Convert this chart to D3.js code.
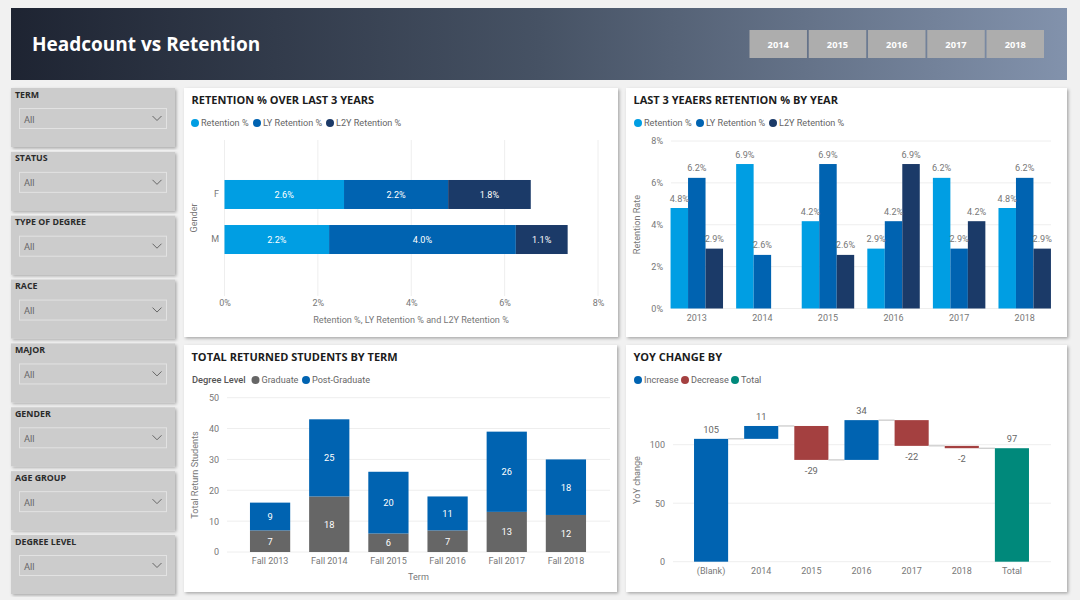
<!DOCTYPE html>
<html>
<head>
<meta charset="utf-8">
<script src="https://cdn.jsdelivr.net/npm/d3@7"></script>
<style>
  html, body { margin: 0; padding: 0; background: #f1f1f1; }
  svg { display: block; }
  text { font-family: Roboto, sans-serif; }
  .axis path { display: none; }
  .axis text { fill: #777; font-size: 9px; font-family: Roboto, sans-serif; }
  .title { font-size: 11px; font-weight: 700; fill: #1c1c1c; font-family: "Open Sans", sans-serif; }
  .legend { font-size: 9.1px; fill: #666; }
  .axis-title { font-size: 9.1px; fill: #777; }
</style>
</head>
<body>
<div id="chart"></div>
<script>
// header + slicers
const yearButtons = ["2014", "2015", "2016", "2017", "2018"];
const slicers = ["TERM", "STATUS", "TYPE OF DEGREE", "RACE", "MAJOR", "GENDER", "AGE GROUP", "DEGREE LEVEL"];

// retention by gender
const genders = ["F", "M"];
const retentionKeys = ["Retention %", "LY Retention %", "L2Y Retention %"];
const genderRetention = [2.56, 2.24];
const genderLY = [2.23, 4.0];
const genderL2Y = [1.77, 1.11];

// retention by year
const years = ["2013", "2014", "2015", "2016", "2017", "2018"];
const yearRetention = [4.8, 6.9, 4.17, 2.86, 6.24, 4.8];
const yearLY = [6.24, 2.56, 6.9, 4.17, 2.86, 6.24];
const yearL2Y = [2.86, null, 2.56, 6.9, 4.17, 2.86];

// returned students
const terms = ["Fall 2013", "Fall 2014", "Fall 2015", "Fall 2016", "Fall 2017", "Fall 2018"];
const graduate = [7, 18, 6, 7, 13, 12];
const postGraduate = [9, 25, 20, 11, 26, 18];

// yoy waterfall
const yoyLabels = ["(Blank)", "2014", "2015", "2016", "2017", "2018", "Total"];
const yoyChange = [105, 11, -29, 34, -22, -2, 97];

const colors = { light: "#009ee3", blue: "#0063b1", navy: "#1b3a68", gray: "#666666", red: "#a44040", teal: "#00897b" };
const gridColor = "#eeeeee";
const retentionColors = [colors.light, colors.blue, colors.navy];
const pct = (v) => v.toFixed(1) + "%";

const svg = d3.select("#chart").append("svg").attr("width", 1080).attr("height", 600);
const defs = svg.append("defs");

const grad = defs.append("linearGradient").attr("id", "headerGrad");
grad.append("stop").attr("offset", "0%").attr("stop-color", "#1e2432");
grad.append("stop").attr("offset", "50%").attr("stop-color", "#465264");
grad.append("stop").attr("offset", "100%").attr("stop-color", "#8292ac");

defs.append("filter").attr("id", "shadow")
  .attr("x", "-5%").attr("y", "-5%").attr("width", "110%").attr("height", "110%")
  .append("feDropShadow")
  .attr("dx", 1.5).attr("dy", 1.5).attr("stdDeviation", 1.5)
  .attr("flood-color", "#000").attr("flood-opacity", 0.3);

// Header
svg.append("rect").attr("x", 11).attr("y", 8).attr("width", 1056).attr("height", 72).attr("fill", "url(#headerGrad)");
svg.append("text").attr("x", 32).attr("y", 50.5).attr("fill", "#fff")
  .style("font-family", '"Open Sans", sans-serif')
  .style("font-size", "19px").style("font-weight", 700).text("Headcount vs Retention");

const buttonX = d3.scaleBand().domain(yearButtons).range([749.5, 1044]).paddingInner(0.03);
yearButtons.forEach((y) => {
  svg.append("rect").attr("x", buttonX(y)).attr("y", 30).attr("width", buttonX.bandwidth()).attr("height", 28).attr("fill", "#adadad");
  svg.append("text").attr("x", buttonX(y) + buttonX.bandwidth() / 2).attr("y", 47.5)
    .attr("text-anchor", "middle").attr("fill", "#fff")
    .style("font-family", '"Open Sans", sans-serif')
    .style("font-size", "9.3px").style("font-weight", 700).text(y);
});

// Slicers
const slicerY = d3.scalePoint().domain(slicers).range([88, 535]);
slicers.forEach((name) => {
  const g = svg.append("g").attr("transform", `translate(11,${slicerY(name)})`);
  g.append("rect").attr("width", 164).attr("height", 59).attr("fill", "#cccccc").attr("filter", "url(#shadow)");
  g.append("text").attr("x", 4).attr("y", 9.5).attr("fill", "#2a2a2a")
    .style("font-family", '"Open Sans", sans-serif')
    .style("font-size", "8.8px").style("font-weight", 700).text(name);
  g.append("rect").attr("x", 8.5).attr("y", 20.5).attr("width", 147).attr("height", 20)
    .attr("fill", "none").attr("stroke", "#e2e2e2");
  g.append("text").attr("x", 13).attr("y", 34.5).attr("fill", "#666").style("font-size", "9.3px").text("All");
  g.append("path").attr("d", "M141.5,28 L146,32.5 L150.5,28").attr("fill", "none").attr("stroke", "#666");
});

function card(x, y, w, h, title) {
  svg.append("rect").attr("x", x).attr("y", y).attr("width", w).attr("height", h)
    .attr("fill", "#fff").attr("filter", "url(#shadow)");
  svg.append("text").attr("class", "title").attr("x", x + 7.5).attr("y", y + 15.5).text(title);
}

function legend(y, names, fills, circleX) {
  names.forEach((name, i) => {
    svg.append("circle").attr("cx", circleX[i]).attr("cy", y).attr("r", 4).attr("fill", fills[i]);
    svg.append("text").attr("class", "legend").attr("x", circleX[i] + 6).attr("y", y + 3.3).text(name);
  });
}

function axisTitle(x, y, label, rotate) {
  svg.append("text").attr("class", "axis-title").attr("text-anchor", "middle")
    .attr("transform", `translate(${x},${y})` + (rotate ? " rotate(-90)" : ""))
    .text(label);
}

function drawAxis(axis, translate) {
  const g = svg.append("g").attr("class", "axis").attr("transform", translate).call(axis);
  g.selectAll(".tick line").remove();
  return g;
}

function hGrid(scale, ticks, x0, x1) {
  svg.append("g").selectAll("line").data(ticks).join("line")
    .attr("x1", x0).attr("x2", x1)
    .attr("y1", (d) => scale(d)).attr("y2", (d) => scale(d))
    .attr("stroke", gridColor);
}

// Chart 1 - stacked bars by gender
card(184, 88, 434, 249, "RETENTION % OVER LAST 3 YEARS");
legend(123, retentionKeys, retentionColors, [195, 257, 330]);
{
  const x = d3.scaleLinear().domain([0, 8]).range([224.5, 598]);
  const y = d3.scaleBand().domain(genders).range([160, 274]).paddingInner(0.356).paddingOuter(0.444);
  const ticks = [0, 2, 4, 6, 8];
  svg.append("g").selectAll("line").data(ticks).join("line")
    .attr("x1", (d) => x(d)).attr("x2", (d) => x(d)).attr("y1", 140).attr("y2", 296)
    .attr("stroke", gridColor);
  const rows = genders.map((g, i) => ({ gender: g, "Retention %": genderRetention[i], "LY Retention %": genderLY[i], "L2Y Retention %": genderL2Y[i] }));
  const stack = d3.stack().keys(retentionKeys)(rows);
  stack.forEach((layer, k) => {
    layer.forEach((d) => {
      svg.append("rect").attr("x", x(d[0])).attr("y", y(d.data.gender))
        .attr("width", x(d[1]) - x(d[0])).attr("height", y.bandwidth()).attr("fill", retentionColors[k]);
      svg.append("text").attr("x", (x(d[0]) + x(d[1])) / 2).attr("y", y(d.data.gender) + y.bandwidth() / 2 + 3.3)
        .attr("text-anchor", "middle").attr("fill", "#fff").style("font-size", "9.1px").text(pct(d[1] - d[0]));
    });
  });
  drawAxis(d3.axisBottom(x).tickValues(ticks).tickFormat((d) => d + "%").tickSize(0).tickPadding(0), "translate(0,300)")
    .selectAll("text").attr("dy", "0.71em");
  drawAxis(d3.axisLeft(y).tickSize(0).tickPadding(5), "translate(224,0)");
  axisTitle(197, 218, "Gender", true);
  axisTitle(411, 323, "Retention %, LY Retention % and L2Y Retention %", false);
}

// Chart 2 - clustered bars by year
card(626, 88, 441, 249, "LAST 3 YEAERS RETENTION % BY YEAR");
legend(123, retentionKeys, retentionColors, [638, 700, 773]);
{
  const y = d3.scaleLinear().domain([0, 8]).range([308.5, 141]);
  const x0 = d3.scaleBand().domain(years).range([664, 1057.5]).paddingInner(0.2).paddingOuter(0.1);
  const x1 = d3.scaleBand().domain(retentionKeys).range([0, x0.bandwidth()]);
  const series = [yearRetention, yearLY, yearL2Y];
  const ticks = [0, 2, 4, 6, 8];
  hGrid(y, ticks, 671, 1051);
  series.forEach((values, k) => {
    values.forEach((v, i) => {
      if (v === null) return;
      const bx = x0(years[i]) + x1(retentionKeys[k]);
      svg.append("rect").attr("x", bx).attr("y", y(v)).attr("width", x1.bandwidth())
        .attr("height", y(0) - y(v)).attr("fill", retentionColors[k]);
    });
  });
  // labels go on top of every bar, neighbours overlap them as in the report
  series.forEach((values, k) => {
    values.forEach((v, i) => {
      if (v === null) return;
      const bx = x0(years[i]) + x1(retentionKeys[k]);
      svg.append("text").attr("x", bx + x1.bandwidth() / 2).attr("y", y(v) - 6.5)
        .attr("text-anchor", "middle").attr("fill", "#777").style("font-size", "9.1px").text(pct(v));
    });
  });
  drawAxis(d3.axisLeft(y).tickValues(ticks).tickFormat((d) => d + "%").tickSize(0).tickPadding(0), "translate(663,0)");
  drawAxis(d3.axisBottom(x0).tickSize(0).tickPadding(0), "translate(0,314.5)");
  axisTitle(640, 224.5, "Retention Rate", true);
}

// Chart 3 - stacked bars by term
card(184, 345, 433, 247, "TOTAL RETURNED STUDENTS BY TERM");
svg.append("text").attr("x", 192).attr("y", 383.3).attr("fill", "#555")
  .style("font-size", "9.3px").style("font-weight", 500).text("Degree Level");
legend(380, ["Graduate", "Post-Graduate"], [colors.gray, colors.blue], [255.5, 306]);
{
  const y = d3.scaleLinear().domain([0, 50]).range([552, 397.7]);
  const x = d3.scaleBand().domain(terms).range([240.5, 595.5]).paddingInner(0.32).paddingOuter(0.16);
  const ticks = [0, 10, 20, 30, 40, 50];
  hGrid(y, ticks, 227, 610);
  terms.forEach((t, i) => {
    const parts = [
      { from: 0, to: graduate[i], fill: colors.gray },
      { from: graduate[i], to: graduate[i] + postGraduate[i], fill: colors.blue },
    ];
    parts.forEach((p) => {
      svg.append("rect").attr("x", x(t)).attr("y", y(p.to)).attr("width", x.bandwidth())
        .attr("height", y(p.from) - y(p.to)).attr("fill", p.fill);
      svg.append("text").attr("x", x(t) + x.bandwidth() / 2).attr("y", (y(p.from) + y(p.to)) / 2 + 3.5)
        .attr("text-anchor", "middle").attr("fill", "#fff").style("font-size", "9.3px").text(p.to - p.from);
    });
  });
  drawAxis(d3.axisLeft(y).tickValues(ticks).tickSize(0).tickPadding(0), "translate(219,0)");
  drawAxis(d3.axisBottom(x).tickSize(0).tickPadding(0), "translate(0,558)");
  axisTitle(198, 475, "Total Return Students", true);
  axisTitle(418.5, 580, "Term", false);
}

// Chart 4 - waterfall
card(626, 345, 441, 247, "YOY CHANGE BY");
legend(380, ["Increase", "Decrease", "Total"], [colors.blue, colors.red, colors.teal], [638, 685, 735]);
{
  const y = d3.scaleLinear().domain([0, 100]).range([561.7, 444.7]);
  const x = d3.scaleBand().domain(yoyLabels).range([686, 1037]).paddingInner(0.32).paddingOuter(0.16);
  const ticks = [0, 50, 100];
  hGrid(y, ticks, 673, 1051);
  let running = 0;
  yoyLabels.forEach((label, i) => {
    const isTotal = label === "Total";
    const v = yoyChange[i];
    const start = isTotal ? 0 : running;
    const end = isTotal ? v : running + v;
    const fill = isTotal ? colors.teal : v >= 0 ? colors.blue : colors.red;
    svg.append("rect").attr("x", x(label)).attr("y", y(Math.max(start, end))).attr("width", x.bandwidth())
      .attr("height", Math.abs(y(start) - y(end))).attr("fill", fill);
    svg.append("text").attr("x", x(label) + x.bandwidth() / 2)
      .attr("y", v >= 0 ? y(end) - 6 : y(end) + 14)
      .attr("text-anchor", "middle").attr("fill", "#666").style("font-size", "9.3px")
      .text(v < 0 ? "-" + Math.abs(v) : v);
    // connector to the next column
    if (i < yoyLabels.length - 1) {
      svg.append("line").attr("x1", x(label) + x.bandwidth()).attr("x2", x(yoyLabels[i + 1]))
        .attr("y1", y(end)).attr("y2", y(end)).attr("stroke", "#bdbdbd");
    }
    running = end;
  });
  drawAxis(d3.axisLeft(y).tickValues(ticks).tickSize(0).tickPadding(0), "translate(665,0)");
  drawAxis(d3.axisBottom(x).tickSize(0).tickPadding(0), "translate(0,568)");
  axisTitle(640, 480, "YoY change", true);
}
</script>
</body>
</html>
